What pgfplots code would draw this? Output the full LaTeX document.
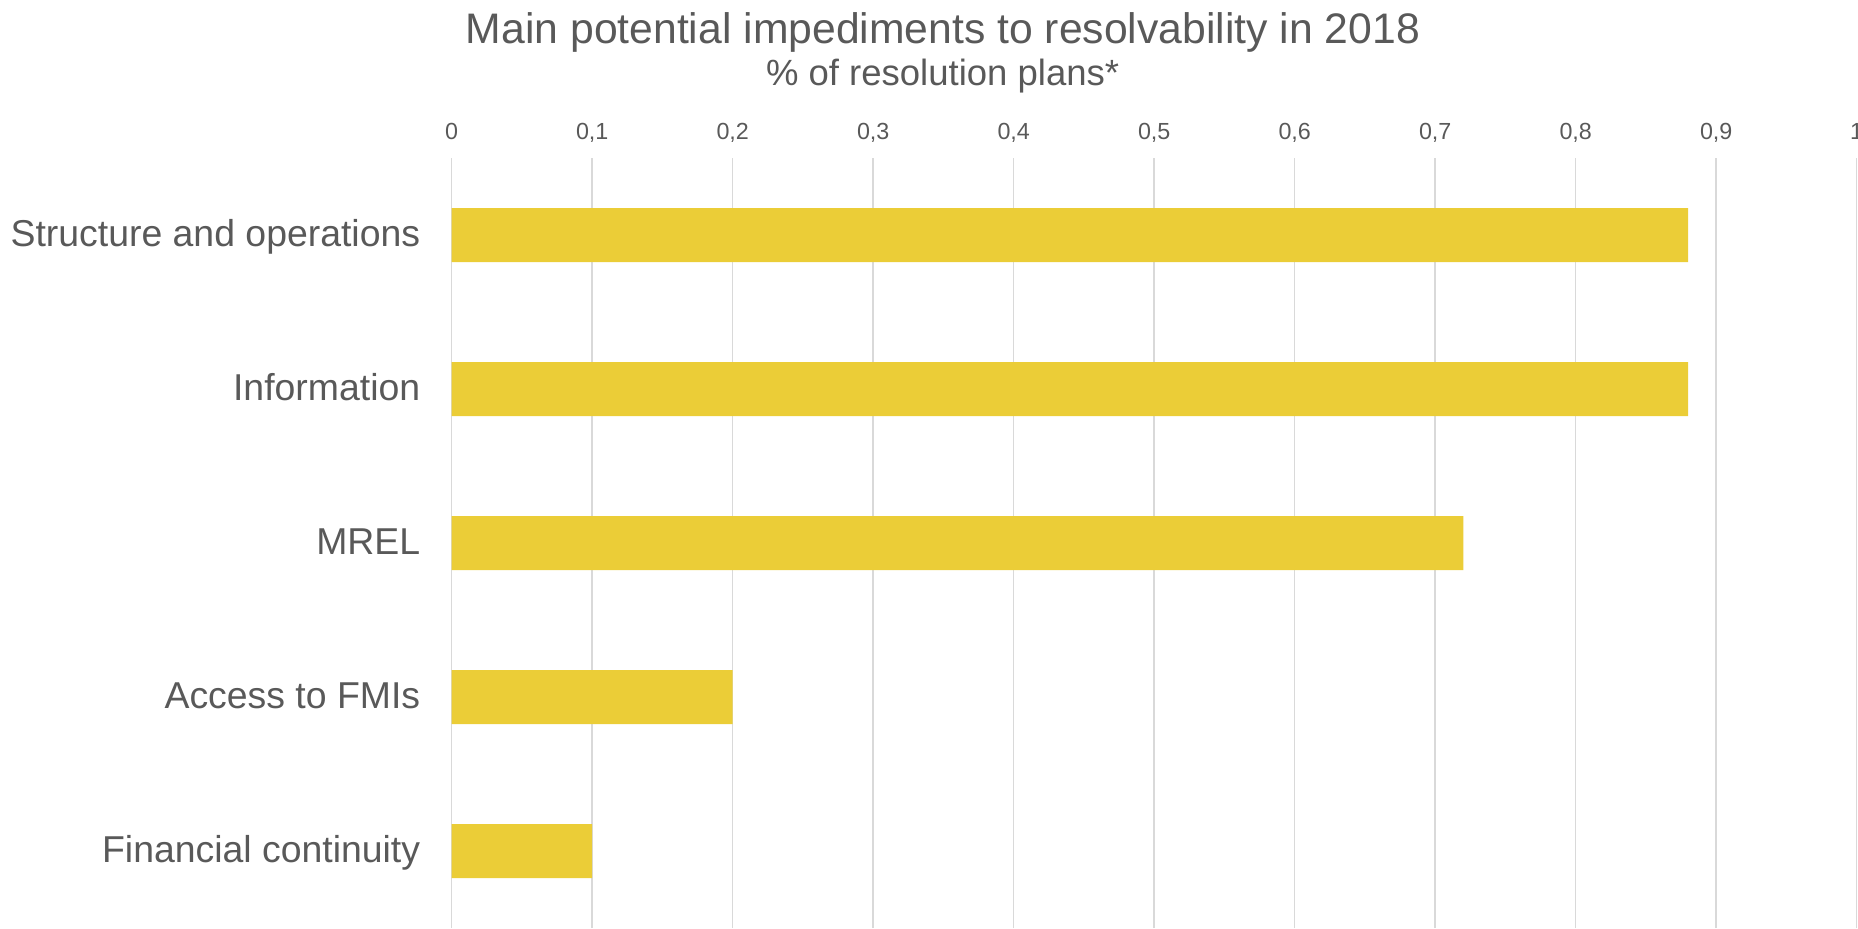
\documentclass[border=0pt]{standalone}
\usepackage{fontspec}
\setmainfont{Liberation Sans}
\usepackage{pgfplots}
\pgfplotsset{compat=1.18}
\definecolor{bargold}{RGB}{235,205,55}
\definecolor{txtgray}{RGB}{89,89,89}
\definecolor{gridgray}{RGB}{217,217,217}
\begin{document}
\begin{tikzpicture}
\path[use as bounding box] (0pt,0pt) rectangle (929pt,464pt);
\begin{axis}[
  at={(225.85pt,0pt)}, anchor=south west,
  scale only axis,
  width=702.5pt, height=385pt,
  xmin=0, xmax=1,
  ymin=-0.5, ymax=4.5,
  xbar, bar width=27pt,
  xtick={0,0.1,...,1.0},
  xticklabel pos=upper,
  xmajorgrids,
  grid style={gridgray, line width=0.75pt},
  axis line style={draw=none},
  major tick style={draw=none},
  ytick={0,1,2,3,4},
  yticklabels={Financial continuity, Access to FMIs, MREL, Information, Structure and operations},
  yticklabel style={anchor=base east, inner sep=0pt, xshift=-11.3pt, yshift=-5.8pt,
     font=\fontsize{18.7}{21}\selectfont, text=txtgray},
  xticklabel style={anchor=base, inner sep=0pt, yshift=9.3pt,
     font=\fontsize{11.65}{13}\selectfont, text=txtgray,
     /pgf/number format/assume math mode=true},
  /pgf/number format/.cd, use comma, fixed, precision=1,
]
\addplot[fill=bargold, draw=none] coordinates {
  (0.10,0) (0.20,1) (0.72,2) (0.88,3) (0.88,4)
};
\end{axis}
\node[anchor=base, text=txtgray, font=\fontsize{21.35}{24}\selectfont, inner sep=0pt] at (471.5pt,442pt) {Main potential impediments to resolvability in 2018};
\node[anchor=base, text=txtgray, font=\fontsize{18.25}{20}\selectfont, inner sep=0pt] at (471.3pt,421pt) {\% of resolution plans*};
\end{tikzpicture}
\end{document}
